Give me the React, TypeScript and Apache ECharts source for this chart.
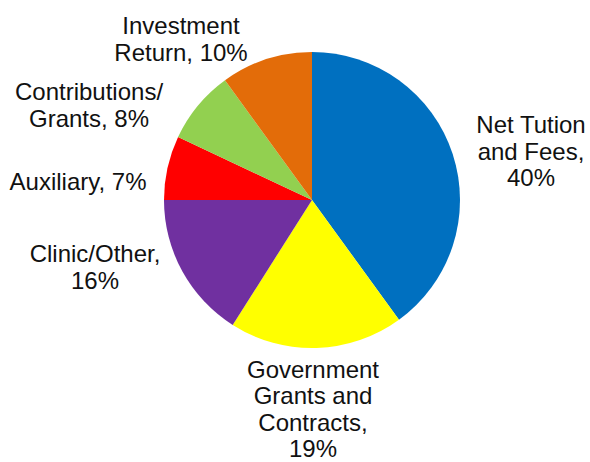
import React, { useEffect, useRef } from "react";
import * as echarts from "echarts";

const categories = [
  "Net Tution\nand Fees,",
  "Government\nGrants and\nContracts,",
  "Clinic/Other,",
  "Auxiliary,",
  "Contributions/\nGrants,",
  "Investment\nReturn,",
];
const values = [40, 19, 16, 7, 8, 10];
const breakBeforeValue = [true, true, true, false, false, false];
const colors = ["#0070C0", "#FFFF00", "#7030A0", "#FF0000", "#92D050", "#E36C09"];
const labelPos: [number, number][] = [
  [531, 151],
  [313, 409],
  [95, 267],
  [78, 181],
  [89, 105],
  [181, 39],
];

export default function App() {
  const ref = useRef<HTMLDivElement>(null);
  useEffect(() => {
    document.body.style.margin = "0";
    const chart = echarts.init(ref.current!, null, { renderer: "svg" });
    chart.setOption({
      animation: false,
      backgroundColor: "#ffffff",
      series: [
        {
          type: "pie",
          center: [312, 200],
          radius: 148,
          startAngle: 90,
          clockwise: true,
          data: categories.map((c, i) => ({
            name: c,
            value: values[i],
            itemStyle: { color: colors[i] },
          })),
          itemStyle: { borderWidth: 0 },
          label: {
            show: true,
            position: "outside",
            formatter: (p: any) =>
              p.name + (breakBeforeValue[p.dataIndex] ? "\n" : " ") + p.value + "%",
            fontFamily: "'Liberation Sans', Arial, sans-serif",
            fontSize: 24,
            lineHeight: 26.5,
            color: "#111",
            align: "center",
            overflow: "none",
            width: 300,
          },
          labelLine: { show: false },
          labelLayout: (params: any) => ({
            x: labelPos[params.dataIndex][0],
            y: labelPos[params.dataIndex][1],
            align: "center",
            verticalAlign: "middle",
          }),
          emphasis: { disabled: true },
        },
      ],
    });
    return () => chart.dispose();
  }, []);
  return <div ref={ref} style={{ width: 590, height: 462 }} />;
}
